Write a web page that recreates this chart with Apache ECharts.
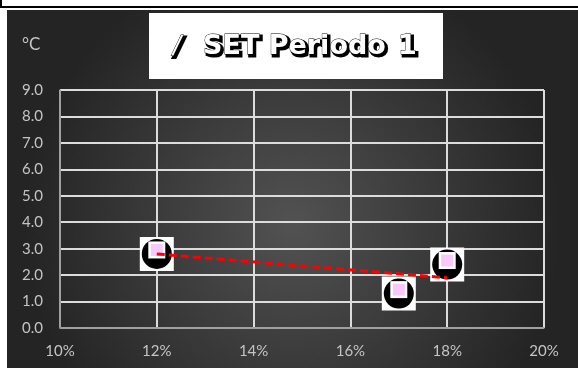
<!DOCTYPE html>
<html>
<head>
<meta charset="utf-8">
<script src="https://cdn.jsdelivr.net/npm/echarts@6/dist/echarts.min.js"></script>
<style>
  html, body { margin: 0; padding: 0; background: #fff; }
  #chart { width: 578px; height: 368px; }
</style>
</head>
<body>
<div id="chart"></div>
<script>
// data (x in %, y in °C)
var points = [[12, 2.8], [17, 1.3], [18, 2.4]];
var trend = [[12, 2.8], [18, 1.9]];
var xTicks = [10, 12, 14, 16, 18, 20];
var yTicks = [0, 1, 2, 3, 4, 5, 6, 7, 8, 9];
var stripTexts = [['2017', 7], ['2.5', 190], ['2.4', 306], ['2.5', 421]];

var labelColor = '#c4c4c4';
var font = 'Lato, "Noto Sans", sans-serif';
var titleFont = 'bold 27px "DejaVu Sans"';

var myChart = echarts.init(document.getElementById('chart'));

// marker is stacked from several scatter layers
var Layer = function (symbol, size, color, z, offset) {
    return {
        type: 'scatter',
        data: points,
        symbol: symbol,
        symbolSize: size,
        symbolOffset: offset || [0, 0],
        itemStyle: { color: color, opacity: 1 },
        z: z,
        silent: true
    };
};

// title word = black shadow layer + white layer with thin outline
var titleText = function (txt, x, align, f) {
    f = f || titleFont;
    return [{
        type: 'text', z: 51, x: x + 2, y: 49,
        style: {
            text: txt, fill: '#000', stroke: '#000', lineWidth: 3,
            font: f, align: align, verticalAlign: 'middle'
        }
    }, {
        type: 'text', z: 52, x: x, y: 47,
        style: {
            text: txt, fill: '#fff', stroke: '#000', lineWidth: 0.8,
            font: f, align: align, verticalAlign: 'middle'
        }
    }];
};

var graphics = [
    { // chart background
        type: 'rect', z: -10,
        shape: { x: 7, y: 10, width: 571, height: 358 },
        style: {
            fill: {
                type: 'radial', x: 0.5, y: 0.6, r: 0.75,
                colorStops: [
                    { offset: 0, color: '#525252' },
                    { offset: 1, color: '#242424' }
                ]
            }
        }
    },
    { type: 'rect', z: 5, shape: { x: 0, y: 6, width: 578, height: 2 }, style: { fill: '#000' } },
    { type: 'rect', z: 5, shape: { x: 0, y: 0, width: 2, height: 8 }, style: { fill: '#000' } },
    { // title box
        type: 'rect', z: 50,
        shape: { x: 149, y: 13, width: 294, height: 66 },
        style: { fill: '#ffffff' }
    },
    {
        type: 'text', z: 20, x: 22, y: 45,
        style: { text: '°C', fill: labelColor, font: '17px ' + font, verticalAlign: 'middle' }
    }
].concat(
    titleText('/', 177, 'center', 'italic 24px "DejaVu Sans"'),
    titleText('SET Periodo', 203, 'left'),
    titleText('1', 398, 'left')
);
stripTexts.forEach(function (t) {
    graphics.push({
        type: 'text', z: 4, x: t[1], y: 4,
        style: { text: t[0], fill: '#000', font: 'bold 16px "Liberation Sans"', verticalAlign: 'bottom' }
    });
});

var option = {
    backgroundColor: '#ffffff',
    animation: false,
    grid: { left: 60, right: 34, top: 90, bottom: 40, containLabel: false },
    graphic: graphics,
    xAxis: {
        type: 'value',
        min: xTicks[0],
        max: xTicks[xTicks.length - 1],
        interval: 2,
        axisLine: { show: true, onZero: false, lineStyle: { color: '#8c8c8c', width: 1.5 } },
        axisTick: { show: false },
        axisLabel: {
            margin: 16, color: labelColor, fontSize: 15, fontFamily: font,
            formatter: '{value}%'
        },
        splitLine: { show: true, lineStyle: { color: '#dcdcdc', width: 2 } }
    },
    yAxis: {
        type: 'value',
        min: yTicks[0],
        max: yTicks[yTicks.length - 1],
        interval: 1,
        axisLine: { show: true, lineStyle: { color: '#8c8c8c', width: 1.5 } },
        axisTick: { show: false },
        axisLabel: {
            margin: 17, color: labelColor, fontSize: 15, fontFamily: font,
            formatter: function (v) { return v.toFixed(1); }
        },
        splitLine: { show: true, lineStyle: { color: '#dcdcdc', width: 2 } }
    },
    series: [
        Layer('rect', 34, '#ffffff', 2),
        Layer('circle', 30, '#000000', 3),
        Layer('rect', 17, '#ffffff', 4, [0, -4]),
        Layer('rect', 12, '#f8c8f8', 5, [0, -4]),
        {
            type: 'line',
            data: trend,
            symbol: 'none',
            z: 10,
            lineStyle: { color: '#ff0000', width: 3, type: [8, 4] }
        }
    ]
};
myChart.setOption(option);
</script>
</body>
</html>
